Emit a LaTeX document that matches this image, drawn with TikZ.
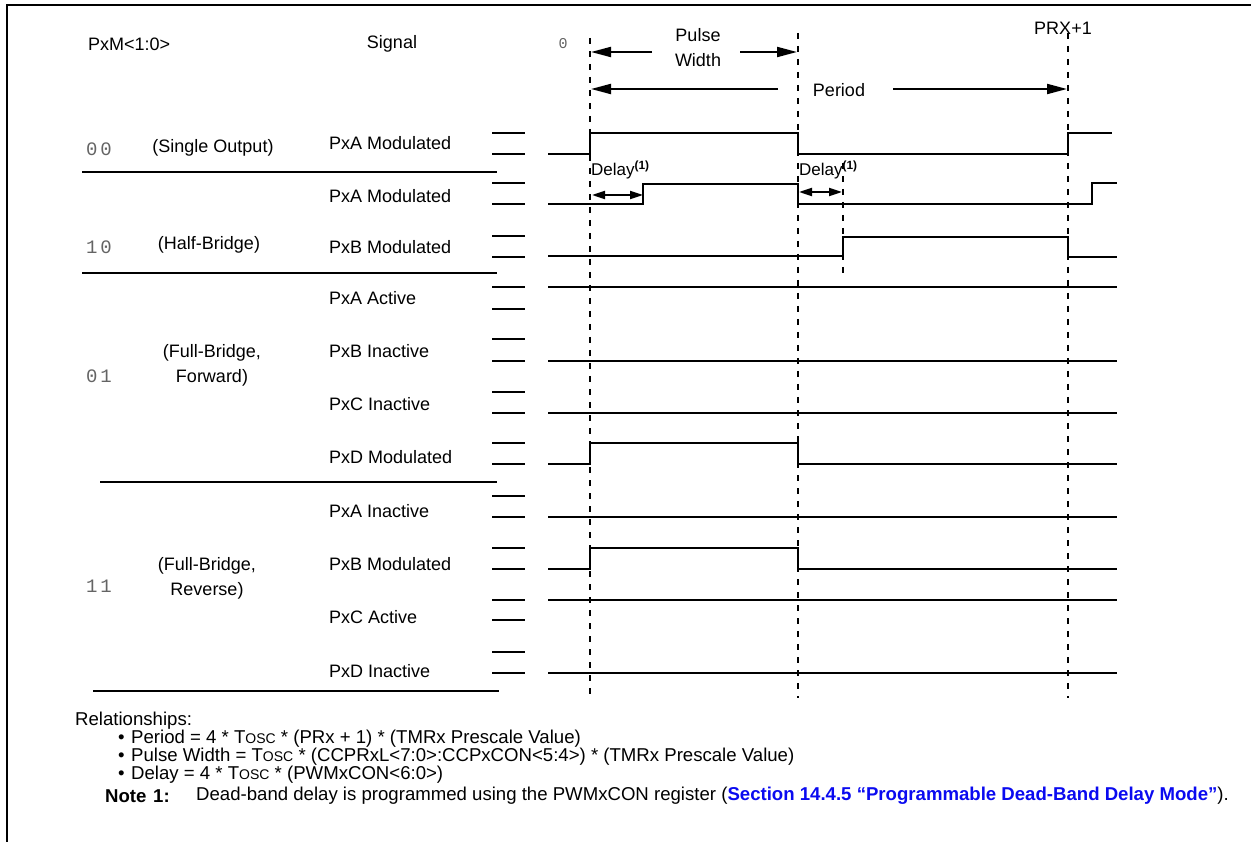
\documentclass[tikz,border=0pt]{standalone}
\usepackage{fontspec}
\setmainfont{Liberation Sans}
\newfontfamily\monof{Liberation Mono}
\usetikzlibrary{arrows.meta}
\definecolor{linkblue}{RGB}{10,10,240}
\definecolor{monogray}{RGB}{100,100,100}
\newcommand\diagf{\fontsize{18}{25}\selectfont}
\newcommand\botf{\fontsize{18.6}{18}\selectfont}
\newcommand\Tosc{T{\fontsize{14}{14}\selectfont OSC}}
\newcommand\mpair[2]{#1\kern3pt#2}
\tikzset{
  txt/.style={font=\diagf, inner sep=0pt},
  mono/.style={font=\monof\fontsize{19}{20}\selectfont, text=monogray, inner sep=0pt},
  bot/.style={font=\botf, inner sep=0pt, anchor=west},
  wave/.style={line width=2pt},
  marker/.style={line width=2pt},
  sep/.style={line width=2pt},
  tick/.style={line width=2pt, dash pattern=on 6pt off 7pt},
  bigarrow/.style={line width=2pt, -{Triangle[length=20pt,width=10pt]}},
  delayarrow/.style={line width=2pt, {Triangle[length=13pt,width=8pt]}-{Triangle[length=13pt,width=8pt]}}
}
\begin{document}
\begin{tikzpicture}[x=1pt,y=-1pt]
\useasboundingbox (0,0) rectangle (1251,842);
% frame
\draw[line width=2.2pt] (7,842) -- (7,5) -- (1251,5);

% headers
\node[txt, anchor=west] (hm) at (88,44) {PxM<1:0>};
\node[txt] (hs) at (392,44) {Signal};
\node[mono, font=\monof\fontsize{15}{16}\selectfont] (h0) at (563,44) {0};
\node[txt, align=center] (hpw) at (698,47.5) {Pulse\\Width};
\node[txt] (hprx) at (1063,28) {PRX+1};
\node[txt] (hper) at (839,90) {Period};

% time markers
\coordinate (t0top) at (590,38);  \coordinate (t0bot) at (590,698);
\coordinate (t1top) at (798,33);  \coordinate (t1bot) at (798,698);
\coordinate (t2top) at (1068,33); \coordinate (t2bot) at (1068,698);
\coordinate (tdtop) at (843,163); \coordinate (tdbot) at (843,277);
\draw[tick] (t0top) -- (t0bot);
\draw[tick] (t1top) -- (t1bot);
\draw[tick] (t2top) -- (t2bot);
\draw[tick] (tdtop) -- (tdbot);

% pulse width / period arrows
\coordinate (pwL) at (652,52); \coordinate (pwLe) at (591,52);
\coordinate (pwR) at (740,52); \coordinate (pwRe) at (797,52);
\coordinate (peL) at (778,89); \coordinate (peLe) at (591,89);
\coordinate (peR) at (893,89); \coordinate (peRe) at (1067,89);
\draw[bigarrow] (pwL) -- (pwLe);
\draw[bigarrow] (pwR) -- (pwRe);
\draw[bigarrow] (peL) -- (peLe);
\draw[bigarrow] (peR) -- (peRe);

% mode labels
\node[mono] (m00) at (99,149) {\mpair00};
\node[txt] (d00) at (213,148) {(Single Output)};
\node[mono] (m10) at (99,247) {\mpair10};
\node[txt] (d10) at (209,245) {(Half-Bridge)};
\node[mono] (m01) at (99,376) {\mpair01};
\node[txt, align=center] (d01) at (212,365) {(Full-Bridge,\\Forward)};
\node[mono] (m11) at (99,586) {\mpair11};
\node[txt, align=center] (d11) at (207,578) {(Full-Bridge,\\Reverse)};

% separators
\draw[sep] (82,172) -- (497,172);
\draw[sep] (82,273) -- (497,273);
\draw[sep] (100,482) -- (497,482);
\draw[sep] (93,691) -- (499,691);

% signal labels
\foreach \n/\y/\t in {s1/143/PxA Modulated, s2/196/PxA Modulated, s3/247/PxB Modulated,
  s4/298/PxA Active, s5/351/PxB Inactive, s6/404/PxC Inactive, s7/457/PxD Modulated,
  s8/511/PxA Inactive, s9/564/PxB Modulated, s10/617/PxC Active, s11/671/PxD Inactive}
  \node[txt, anchor=west] (\n) at (329,\y) {\t};

% level markers
\foreach \a/\b in {133/154, 183/204, 236/257, 287/309, 339/361, 392/413, 443/464,
  496/517, 548/569, 600/620, 652/673}{
  \draw[marker] (492,\a) -- (525,\a);
  \draw[marker] (492,\b) -- (525,\b);
}

% waveforms
\draw[wave] (548,154) -- (590,154) -- (590,133) -- (798,133) -- (798,154) -- (1068,154) -- (1068,133) -- (1112,133);
\draw[wave] (548,204) -- (643,204) -- (643,184) -- (798,184) -- (798,204) -- (1092,204) -- (1092,183) -- (1117,183);
\draw[wave] (548,256) -- (843,256) -- (843,237) -- (1068,237) -- (1068,257) -- (1117,257);
\draw[wave] (548,287) -- (1117,287);
\draw[wave] (548,361) -- (1117,361);
\draw[wave] (548,413) -- (1117,413);
\draw[wave] (548,464) -- (590,464) -- (590,443) -- (798,443) -- (798,464) -- (1117,464);
\draw[wave] (548,517) -- (1117,517);
\draw[wave] (548,569) -- (590,569) -- (590,548) -- (798,548) -- (798,569) -- (1117,569);
\draw[wave] (548,600) -- (1117,600);
\draw[wave] (548,673) -- (1117,673);

% delays
\node[txt, font=\fontsize{17}{20}\selectfont, anchor=west] (dl1) at (591,170) {Delay\textsuperscript{\bfseries(1)}};
\node[txt, font=\fontsize{17}{20}\selectfont, anchor=west] (dl2) at (799,170) {Delay\textsuperscript{\bfseries(1)}};
\coordinate (da1) at (592,195); \coordinate (db1) at (643,195);
\coordinate (da2) at (799,192); \coordinate (db2) at (842,192);
\draw[delayarrow] (da1) -- (db1);
\draw[delayarrow] (da2) -- (db2);

% bottom text
\node[bot] (rel) at (75,721) {Relationships:};
\node[bot] (b1) at (118,739) {\textbullet};
\node[bot] (r1) at (131,739) {Period = 4 * \Tosc{} * (PRx + 1) * (TMRx Prescale Value)};
\node[bot] (b2) at (118,757) {\textbullet};
\node[bot] (r2) at (131,757) {Pulse Width = \Tosc{} * (CCPRxL<7:0>:CCPxCON<5:4>) * (TMRx Prescale Value)};
\node[bot] (b3) at (118,775) {\textbullet};
\node[bot] (r3) at (131,775) {Delay = 4 * \Tosc{} * (PWMxCON<6:0>)};
\node[bot] (nt) at (105,796) {\bfseries Note};
\node[bot] (n1) at (153,796) {\bfseries 1:};
\node[bot] (nx) at (196,796) {Dead-band delay is programmed using the PWMxCON register ({\bfseries\color{linkblue}Section 14.4.5 “Programmable Dead-Band Delay Mode”}).};
\end{tikzpicture}
\end{document}
